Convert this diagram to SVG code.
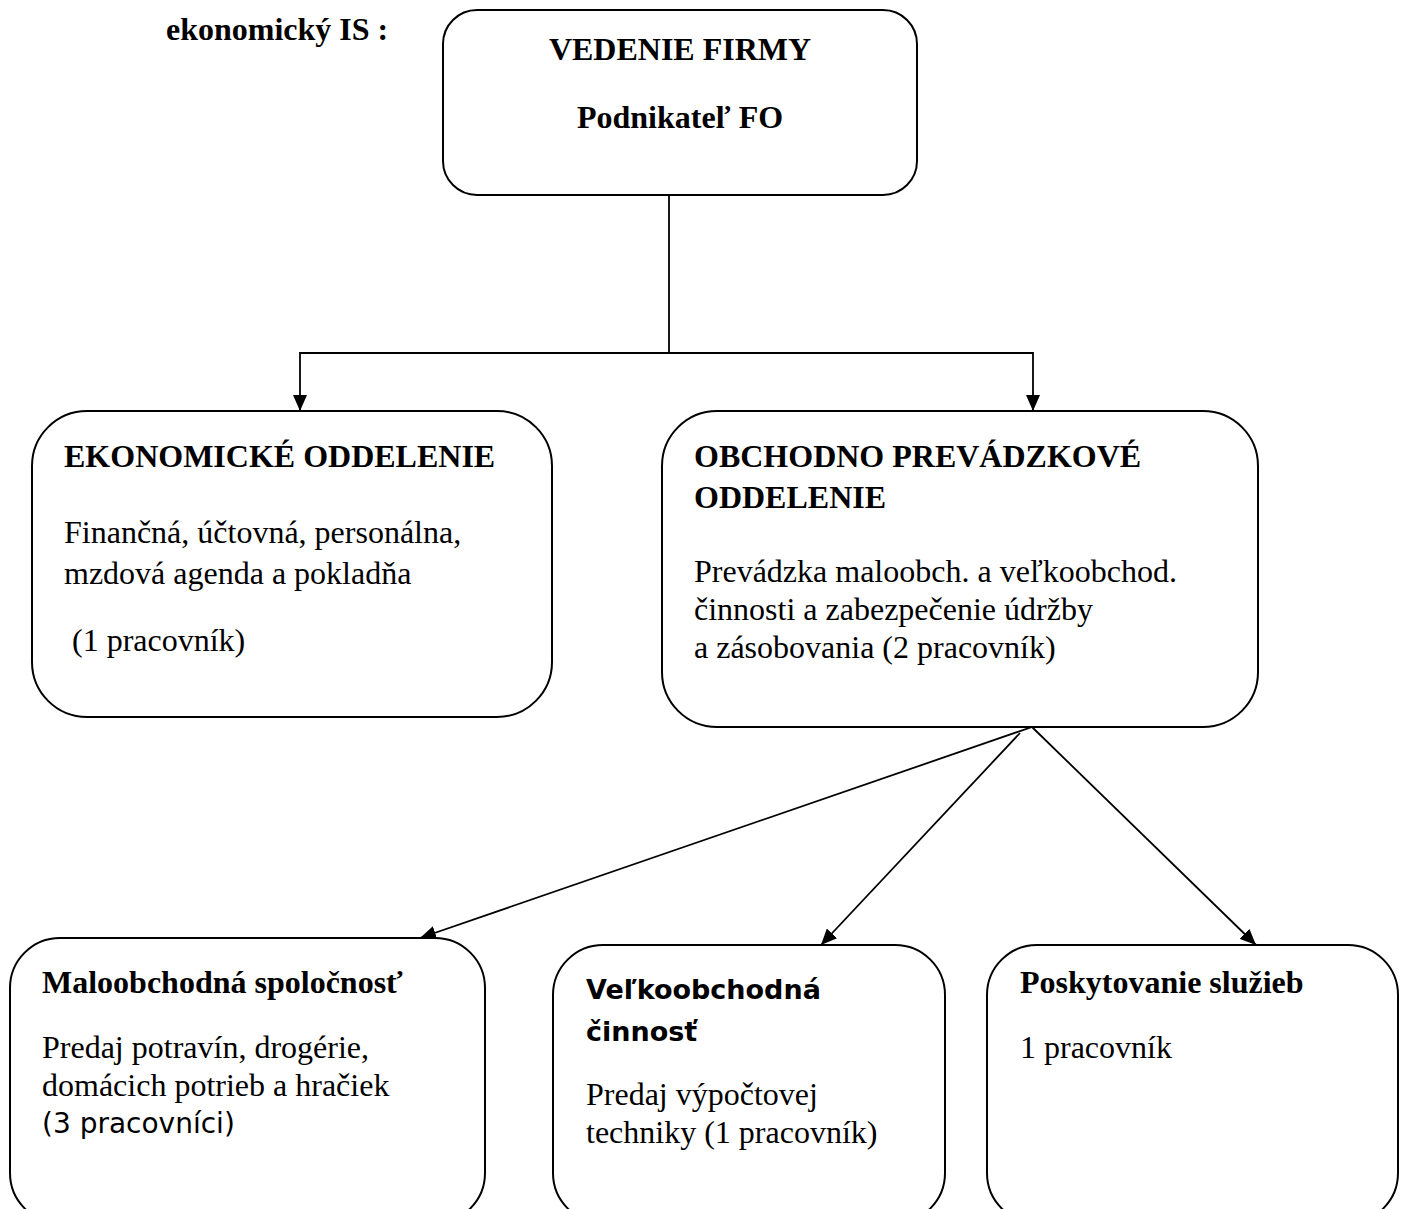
<svg xmlns="http://www.w3.org/2000/svg" width="1405" height="1209" viewBox="0 0 1405 1209">
<defs>
<marker id="arr" viewBox="0 0 16 14" refX="16" refY="7" markerWidth="16" markerHeight="14" markerUnits="userSpaceOnUse" orient="auto">
<path d="M0,0 L16,7 L0,14 Z" fill="#000"/>
</marker>
<style>
.box{fill:#fff;stroke:#000;stroke-width:2}
.con{fill:none;stroke:#000;stroke-width:1.8}
.hb{font-family:"Liberation Serif","Times New Roman",serif;font-weight:bold;font-size:32px;fill:#000}
.t{font-family:"Liberation Serif","Times New Roman",serif;font-size:32px;fill:#000}
.sb{font-family:"DejaVu Sans","Noto Sans",sans-serif;font-weight:bold;font-size:27px;fill:#000}
.s{font-family:"DejaVu Sans","Noto Sans",sans-serif;font-size:28px;fill:#000}
</style>
</defs>
<rect width="1405" height="1209" fill="#fff"/>
<text class="hb" x="166" y="40">ekonomický IS :</text>
<g id="connectors">
<polyline class="con" points="669,195 669,353"/>
<polyline class="con" points="669,353 300,353 300,411" marker-end="url(#arr)"/>
<polyline class="con" points="669,353 1033,353 1033,411" marker-end="url(#arr)"/>
<line class="con" x1="1032" y1="727" x2="420" y2="938" marker-end="url(#arr)"/>
<line class="con" x1="1020" y1="733" x2="821" y2="945" marker-end="url(#arr)"/>
<line class="con" x1="1032" y1="727" x2="1256" y2="945" marker-end="url(#arr)"/>
</g>
<g id="vedenie">
<rect class="box" x="443" y="10" width="474" height="185" rx="34"/>
<text class="hb" x="680" y="60" text-anchor="middle">VEDENIE FIRMY</text>
<text class="hb" x="680" y="128" text-anchor="middle">Podnikateľ FO</text>
</g>
<g id="ekonomicke">
<rect class="box" x="32" y="411" width="520" height="306" rx="55"/>
<text class="hb" x="64" y="467">EKONOMICKÉ ODDELENIE</text>
<text class="t" x="64" y="543">Finančná, účtovná, personálna,</text>
<text class="t" x="64" y="584">mzdová agenda a pokladňa</text>
<text class="t" x="64" y="651" xml:space="preserve"> (1 pracovník)</text>
</g>
<g id="obchodno">
<rect class="box" x="662" y="411" width="596" height="316" rx="55"/>
<text class="hb" x="694" y="467">OBCHODNO PREVÁDZKOVÉ</text>
<text class="hb" x="694" y="508">ODDELENIE</text>
<text class="t" x="694" y="582">Prevádzka maloobch. a veľkoobchod.</text>
<text class="t" x="694" y="620">činnosti a zabezpečenie údržby</text>
<text class="t" x="694" y="658">a zásobovania (2 pracovník)</text>
</g>
<g id="maloobchodna">
<rect class="box" x="10" y="938" width="475" height="285" rx="50"/>
<text class="hb" x="42" y="993">Maloobchodná spoločnosť</text>
<text class="t" x="42" y="1058">Predaj potravín, drogérie,</text>
<text class="t" x="42" y="1096">domácich potrieb a hračiek</text>
<text class="s" x="42" y="1133">(3 pracovníci)</text>
</g>
<g id="velkoobchodna">
<rect class="box" x="553" y="945" width="392" height="278" rx="50"/>
<text class="sb" x="586" y="999">Veľkoobchodná</text>
<text class="sb" x="586" y="1041">činnosť</text>
<text class="t" x="586" y="1105">Predaj výpočtovej</text>
<text class="t" x="586" y="1143">techniky (1 pracovník)</text>
</g>
<g id="sluzby">
<rect class="box" x="987" y="945" width="411" height="278" rx="50"/>
<text class="hb" x="1020" y="993">Poskytovanie služieb</text>
<text class="t" x="1020" y="1058">1 pracovník</text>
</g>
</svg>
